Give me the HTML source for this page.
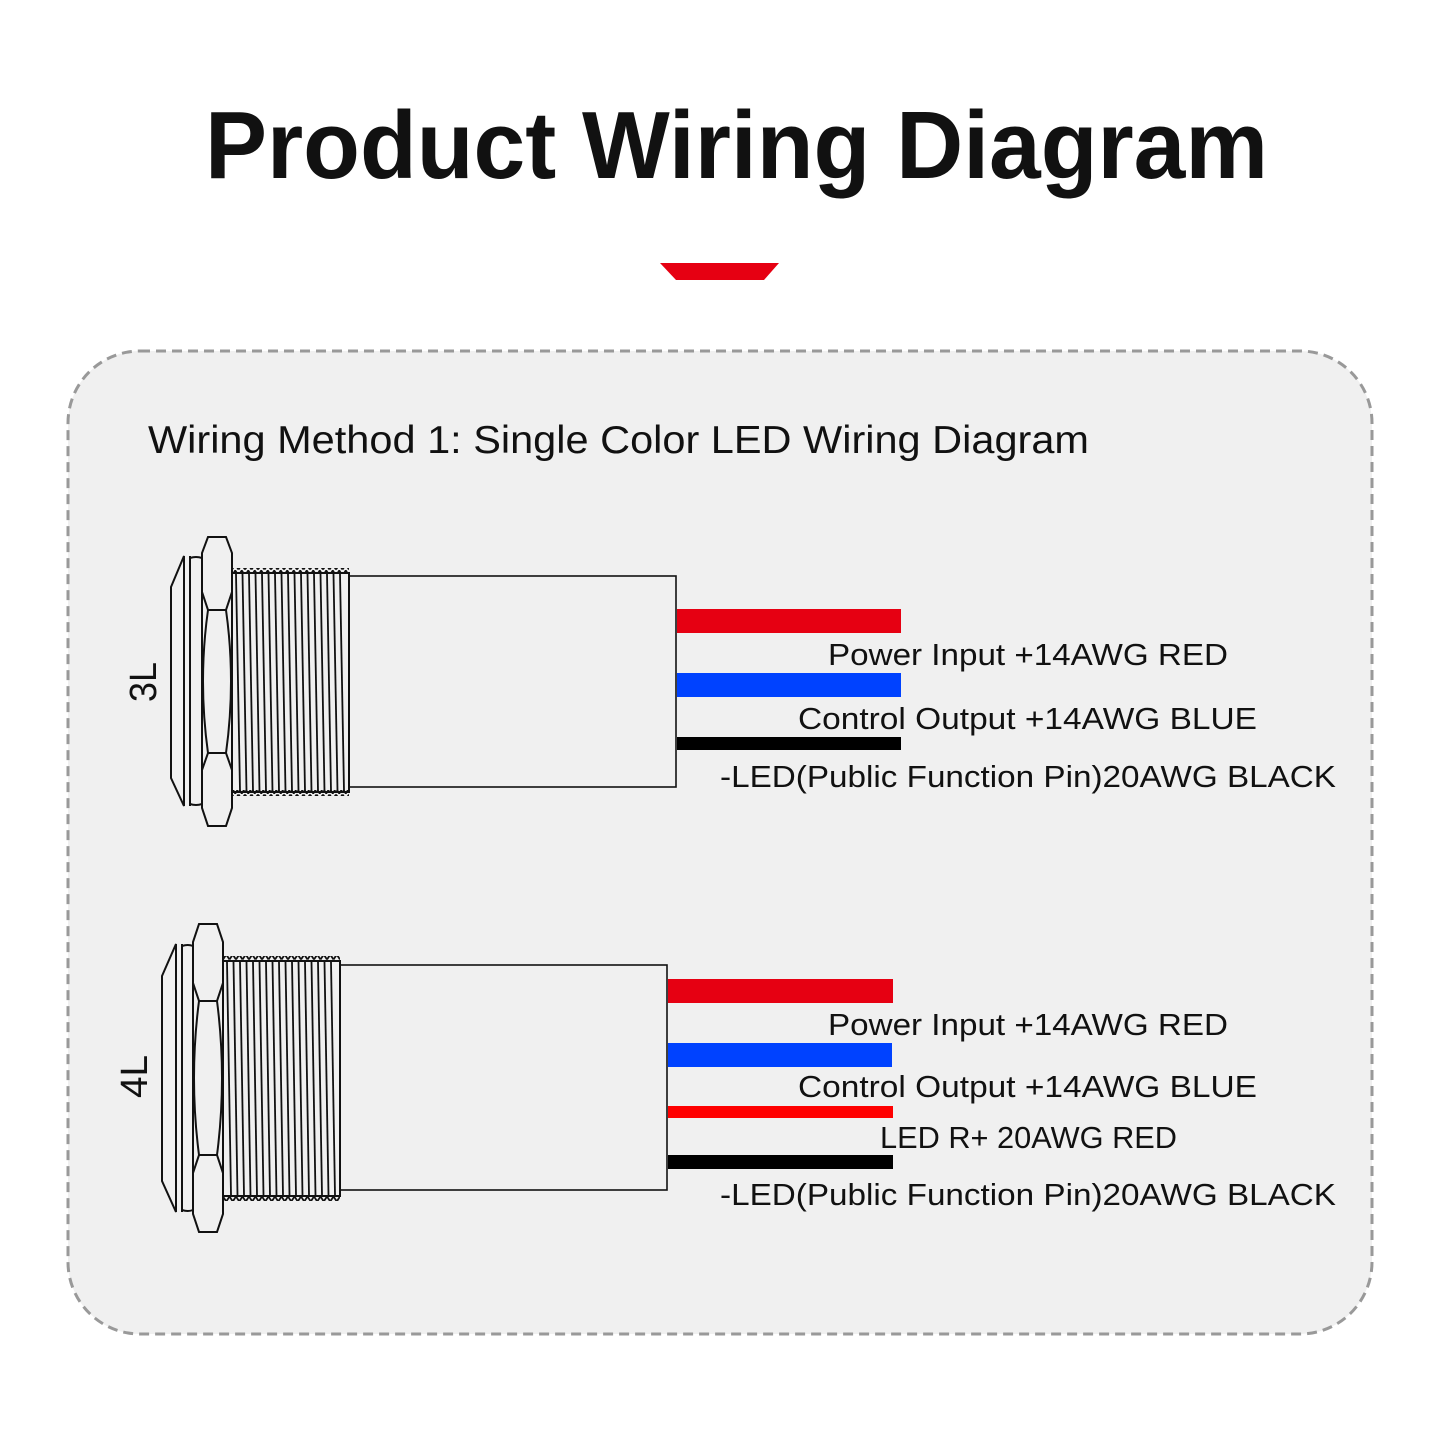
<!DOCTYPE html>
<html><head><meta charset="utf-8"><style>
html,body{margin:0;padding:0;background:#fff}
svg{display:block}
text{font-family:"Liberation Sans","DejaVu Sans",sans-serif;fill:#111}
</style></head><body>
<svg width="1440" height="1440" viewBox="0 0 1440 1440" xmlns="http://www.w3.org/2000/svg">
<defs>
<pattern id="zig" patternUnits="userSpaceOnUse" width="6.5" height="6" x="232">
<path d="M0,5.5 L3.25,0.5 L6.5,5.5" fill="none" stroke="#111" stroke-width="1.8"/>
</pattern>
</defs>
<rect width="1440" height="1440" fill="#fff"/>
<text x="205" y="178" font-size="96" font-weight="bold" textLength="1063" lengthAdjust="spacingAndGlyphs">Product Wiring Diagram</text>
<polygon points="660,263 779,263 764,280 676,280" fill="#e60012"/>
<rect x="68" y="351" width="1304" height="983" rx="72" fill="#f0f0f0" stroke="#999" stroke-width="3" stroke-dasharray="10,6"/>
<text x="148" y="453" font-size="39" textLength="941" lengthAdjust="spacingAndGlyphs">Wiring Method 1: Single Color LED Wiring Diagram</text>

<!-- 3L connector -->
<g fill="none" stroke="#111" stroke-width="2">
<polygon points="171,587 184,556 184,806 171,778"/>
<line x1="190" y1="556" x2="190" y2="806"/>
<path d="M190,558 Q196,556 202,558 L202,804 Q196,806 190,804"/>
<path d="M208,537 L226,537 L232,553 L232,592 L226,610 L208,610 L202,592 L202,553 Z" fill="#f0f0f0"/>
<path d="M208,610 L226,610 Q236,681 226,753 L208,753 Q198,681 208,610 Z" fill="#f0f0f0"/>
<path d="M208,753 L226,753 L232,770 L232,808 L226,826 L208,826 L202,808 L202,770 Z" fill="#f0f0f0"/>
<rect x="232" y="573" width="117" height="219"/>
<rect x="349" y="576" width="327" height="211" stroke-width="1.6"/>
</g>
<rect x="232" y="568" width="117" height="6" fill="url(#zig)"/>
<rect x="232" y="790" width="117" height="6" fill="url(#zig)" transform="translate(0,1586) scale(1,-1)"/>
<g stroke="#111" stroke-width="1.8">
<line x1="236" y1="574" x2="240" y2="791"/><line x1="242.5" y1="574" x2="246.5" y2="791"/><line x1="249" y1="574" x2="253" y2="791"/><line x1="255.5" y1="574" x2="259.5" y2="791"/><line x1="262" y1="574" x2="266" y2="791"/><line x1="268.5" y1="574" x2="272.5" y2="791"/><line x1="275" y1="574" x2="279" y2="791"/><line x1="281.5" y1="574" x2="285.5" y2="791"/><line x1="288" y1="574" x2="292" y2="791"/><line x1="294.5" y1="574" x2="298.5" y2="791"/><line x1="301" y1="574" x2="305" y2="791"/><line x1="307.5" y1="574" x2="311.5" y2="791"/><line x1="314" y1="574" x2="318" y2="791"/><line x1="320.5" y1="574" x2="324.5" y2="791"/><line x1="327" y1="574" x2="331" y2="791"/><line x1="333.5" y1="574" x2="337.5" y2="791"/><line x1="340" y1="574" x2="344" y2="791"/>
</g>
<text transform="translate(156,702) rotate(-90)" font-size="38" textLength="40" lengthAdjust="spacingAndGlyphs">3L</text>
<rect x="677" y="609" width="224" height="24" fill="#e60012"/>
<rect x="677" y="673" width="224" height="24" fill="#0042ff"/>
<rect x="677" y="737" width="224" height="13" fill="#000"/>
<text x="828" y="665" font-size="31" textLength="400" lengthAdjust="spacingAndGlyphs">Power Input +14AWG RED</text>
<text x="798" y="729" font-size="31" textLength="459" lengthAdjust="spacingAndGlyphs">Control Output +14AWG BLUE</text>
<text x="720" y="787" font-size="31" textLength="616" lengthAdjust="spacingAndGlyphs">-LED(Public Function Pin)20AWG BLACK</text>

<!-- 4L connector -->
<g fill="none" stroke="#111" stroke-width="2">
<polygon points="162,976 176,944 176,1212 162,1181"/>
<line x1="182" y1="944" x2="182" y2="1212"/>
<path d="M182,946 Q188,944 193,946 L193,1210 Q188,1212 182,1210"/>
<path d="M199,924 L217,924 L223,942 L223,983 L217,1001 L199,1001 L193,983 L193,942 Z" fill="#f0f0f0"/>
<path d="M199,1001 L217,1001 Q227,1078 217,1155 L199,1155 Q189,1078 199,1001 Z" fill="#f0f0f0"/>
<path d="M199,1155 L217,1155 L223,1173 L223,1214 L217,1232 L199,1232 L193,1214 L193,1173 Z" fill="#f0f0f0"/>
<rect x="223" y="961" width="117" height="235"/>
<rect x="340" y="965" width="327" height="225" stroke-width="1.6"/>
</g>
<g transform="translate(-9,0)">
<rect x="232" y="956" width="117" height="6" fill="url(#zig)"/>
<rect x="232" y="1195" width="117" height="6" fill="url(#zig)" transform="translate(0,2396) scale(1,-1)"/>
</g>
<g stroke="#111" stroke-width="1.8" transform="translate(-9,0)">
<line x1="236" y1="962" x2="240" y2="1195"/><line x1="242.5" y1="962" x2="246.5" y2="1195"/><line x1="249" y1="962" x2="253" y2="1195"/><line x1="255.5" y1="962" x2="259.5" y2="1195"/><line x1="262" y1="962" x2="266" y2="1195"/><line x1="268.5" y1="962" x2="272.5" y2="1195"/><line x1="275" y1="962" x2="279" y2="1195"/><line x1="281.5" y1="962" x2="285.5" y2="1195"/><line x1="288" y1="962" x2="292" y2="1195"/><line x1="294.5" y1="962" x2="298.5" y2="1195"/><line x1="301" y1="962" x2="305" y2="1195"/><line x1="307.5" y1="962" x2="311.5" y2="1195"/><line x1="314" y1="962" x2="318" y2="1195"/><line x1="320.5" y1="962" x2="324.5" y2="1195"/><line x1="327" y1="962" x2="331" y2="1195"/><line x1="333.5" y1="962" x2="337.5" y2="1195"/><line x1="340" y1="962" x2="344" y2="1195"/>
</g>
<text transform="translate(147,1098) rotate(-90)" font-size="38" textLength="43" lengthAdjust="spacingAndGlyphs">4L</text>
<rect x="668" y="979" width="225" height="24" fill="#e60012"/>
<rect x="668" y="1043" width="224" height="24" fill="#0042ff"/>
<rect x="668" y="1106" width="225" height="12" fill="#ff0000"/>
<rect x="668" y="1155" width="225" height="14" fill="#000"/>
<text x="828" y="1035" font-size="31" textLength="400" lengthAdjust="spacingAndGlyphs">Power Input +14AWG RED</text>
<text x="798" y="1097" font-size="31" textLength="459" lengthAdjust="spacingAndGlyphs">Control Output +14AWG BLUE</text>
<text x="880" y="1148" font-size="31" textLength="297" lengthAdjust="spacingAndGlyphs">LED R+ 20AWG RED</text>
<text x="720" y="1205" font-size="31" textLength="616" lengthAdjust="spacingAndGlyphs">-LED(Public Function Pin)20AWG BLACK</text>
</svg>
</body></html>
